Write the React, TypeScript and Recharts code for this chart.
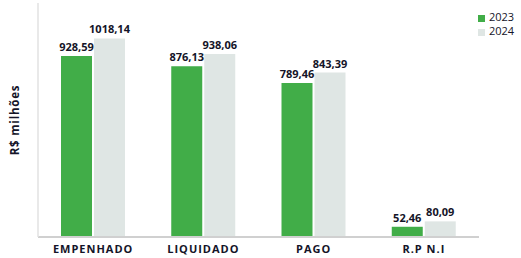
import React from 'react';
import { BarChart, Bar, XAxis, YAxis, Legend, LabelList, Label } from 'recharts';

const categories = ['EMPENHADO', 'LIQUIDADO', 'PAGO', 'R.P N.I'];
const values2023 = [928.59, 876.13, 789.46, 52.46];
const values2024 = [1018.14, 938.06, 843.39, 80.09];

const data = categories.map((c, i) => ({ name: c, y2023: values2023[i], y2024: values2024[i] }));

const fmt = (v: any) => Number(v).toFixed(2).replace('.', ',');
const FONT = '"Open Sans", "DejaVu Sans", sans-serif';
const TEXT = '#141428';

export default function App() {
  return (
    <div style={{ position: 'absolute', left: 0, top: 0, width: 521, height: 258, background: '#fff', fontFamily: FONT }}>
      <BarChart
        width={521}
        height={258}
        data={data}
        margin={{ top: 3, right: 42, bottom: 0, left: 0 }}
        barSize={31}
        barGap={2}
      >
        <XAxis
          dataKey="name"
          height={21}
          tickLine={false}
          axisLine={{ stroke: '#d0d0d0', strokeWidth: 2 }}
          tick={{ fill: TEXT, fontSize: 11, fontWeight: 700, letterSpacing: 1, fontFamily: FONT }}
          interval={0}
        />
        <XAxis
          xAxisId="top"
          orientation="top"
          dataKey="name"
          height={0}
          tick={false}
          tickLine={false}
          axisLine={{ stroke: '#e2e2e2', strokeWidth: 1.5 }}
        />
        <YAxis
          width={38}
          domain={[0, 1200]}
          tick={false}
          tickLine={false}
          axisLine={{ stroke: '#e2e2e2', strokeWidth: 1.5 }}
        >
          <Label
            value="R$ milhões"
            angle={-90}
            position="center"
            dx={-4}
            style={{ fill: TEXT, fontSize: 11.5, fontWeight: 700, letterSpacing: 0.8, fontFamily: FONT }}
          />
        </YAxis>
        <YAxis
          yAxisId="right"
          orientation="right"
          width={0}
          domain={[0, 1200]}
          tick={false}
          tickLine={false}
          axisLine={{ stroke: '#e2e2e2', strokeWidth: 1.5 }}
        />
        <Legend
          layout="vertical"
          align="center"
          verticalAlign="middle"
          iconType="square"
          iconSize={7}
          width={60}
          wrapperStyle={{ left: 478, top: 10, width: 60, whiteSpace: 'nowrap', lineHeight: '14px', fontSize: 11, fontFamily: FONT, textAlign: 'left' }}
          formatter={(value: any) => <span style={{ color: TEXT, whiteSpace: 'nowrap' }}>{value}</span>}
        />
        <Bar dataKey="y2023" name="2023" fill="#41ad48" isAnimationActive={false}>
          <LabelList
            dataKey="y2023"
            position="top"
            offset={5}
            formatter={fmt}
            style={{ fill: TEXT, fontSize: 11, fontWeight: 700, fontFamily: FONT }}
          />
        </Bar>
        <Bar dataKey="y2024" name="2024" fill="#dfe6e4" isAnimationActive={false}>
          <LabelList
            dataKey="y2024"
            position="top"
            offset={5}
            formatter={fmt}
            style={{ fill: TEXT, fontSize: 11, fontWeight: 700, fontFamily: FONT }}
          />
        </Bar>
      </BarChart>
    </div>
  );
}
